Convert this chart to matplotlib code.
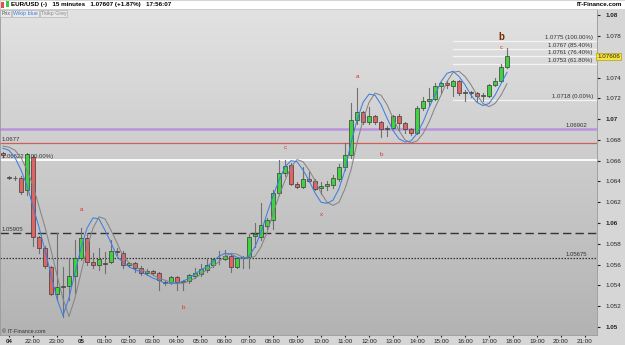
import matplotlib.pyplot as plt
import numpy as np
from matplotlib.patches import Rectangle

# 15 minute EUR/USD bars (bar 0 = 20:45 on the 4th)
opens = [1.0667, 1.0644, 1.0643, 1.0643, 1.0632, 1.0664, 1.0587, 1.0576, 1.0558, 1.0532,
         1.0538, 1.0539, 1.0549, 1.0566, 1.0586, 1.0563, 1.0560, 1.0562, 1.0563, 1.0573,
         1.0571, 1.0560, 1.0562, 1.0557, 1.0552, 1.0554, 1.0552, 1.0542, 1.0543, 1.0548,
         1.0543, 1.0544, 1.0549, 1.0551, 1.0555, 1.0560, 1.0566, 1.0565, 1.0568, 1.0558,
         1.0566, 1.0567, 1.0588, 1.0587, 1.0597, 1.0603, 1.0629, 1.0648, 1.0656, 1.0638,
         1.0635, 1.0642, 1.0640, 1.0634, 1.0636, 1.0637, 1.0642, 1.0654, 1.0665, 1.0699,
         1.0707, 1.0697, 1.0703, 1.0697, 1.0690, 1.0691, 1.0703, 1.0696, 1.0690, 1.0687,
         1.0711, 1.0717, 1.0719, 1.0732, 1.0735, 1.0732, 1.0737, 1.0725, 1.0726, 1.0725,
         1.0722, 1.0722, 1.0733, 1.0737, 1.0750]
highs = [1.0668, 1.0645, 1.0645, 1.0645, 1.0667, 1.0665, 1.0588, 1.0578, 1.0559, 1.0590,
         1.0558, 1.0566, 1.0584, 1.0595, 1.0590, 1.0571, 1.0576, 1.0572, 1.0584, 1.0576,
         1.0573, 1.0563, 1.0563, 1.0559, 1.0556, 1.0555, 1.0553, 1.0544, 1.0549, 1.0549,
         1.0545, 1.0551, 1.0557, 1.0561, 1.0566, 1.0566, 1.0573, 1.0574, 1.0570, 1.0567,
         1.0568, 1.0589, 1.0600, 1.0619, 1.0605, 1.0632, 1.0661, 1.0661, 1.0658, 1.0639,
         1.0654, 1.0649, 1.0642, 1.0639, 1.0640, 1.0646, 1.0657, 1.0677, 1.0715, 1.0730,
         1.0708, 1.0712, 1.0704, 1.0698, 1.0693, 1.0704, 1.0705, 1.0697, 1.0691, 1.0713,
         1.0721, 1.0730, 1.0735, 1.0736, 1.0737, 1.0738, 1.0738, 1.0728, 1.0727, 1.0726,
         1.0725, 1.0734, 1.0740, 1.0753, 1.0768]
lows = [1.0664, 1.0642, 1.0641, 1.0628, 1.0627, 1.0578, 1.0571, 1.0557, 1.0531, 1.0526,
        1.0510, 1.0526, 1.0533, 1.0564, 1.0560, 1.0557, 1.0555, 1.0552, 1.0562, 1.0569,
        1.0557, 1.0558, 1.0553, 1.0550, 1.0550, 1.0550, 1.0536, 1.0540, 1.0541, 1.0536,
        1.0536, 1.0542, 1.0547, 1.0549, 1.0553, 1.0558, 1.0561, 1.0564, 1.0553, 1.0557,
        1.0557, 1.0557, 1.0577, 1.0584, 1.0594, 1.0594, 1.0627, 1.0645, 1.0637, 1.0634,
        1.0634, 1.0639, 1.0632, 1.0628, 1.0632, 1.0634, 1.0640, 1.0651, 1.0663, 1.0695,
        1.0695, 1.0695, 1.0695, 1.0683, 1.0684, 1.0690, 1.0689, 1.0687, 1.0685, 1.0686,
        1.0709, 1.0713, 1.0718, 1.0725, 1.0730, 1.0722, 1.0723, 1.0717, 1.0721, 1.0717,
        1.0717, 1.0721, 1.0732, 1.0736, 1.0749]
closes = [1.0665, 1.0643, 1.0643, 1.0630, 1.0666, 1.0587, 1.0576, 1.0559, 1.0532, 1.0538,
          1.0539, 1.0549, 1.0566, 1.0586, 1.0563, 1.0560, 1.0565, 1.0561, 1.0573, 1.0572,
          1.0560, 1.0562, 1.0557, 1.0552, 1.0554, 1.0552, 1.0545, 1.0543, 1.0548, 1.0543,
          1.0544, 1.0550, 1.0552, 1.0556, 1.0560, 1.0565, 1.0566, 1.0568, 1.0558, 1.0566,
          1.0567, 1.0587, 1.0589, 1.0598, 1.0603, 1.0629, 1.0648, 1.0655, 1.0638, 1.0635,
          1.0642, 1.0640, 1.0633, 1.0636, 1.0638, 1.0643, 1.0654, 1.0665, 1.0699, 1.0707,
          1.0697, 1.0703, 1.0697, 1.0690, 1.0691, 1.0703, 1.0696, 1.0690, 1.0687, 1.0711,
          1.0717, 1.0719, 1.0732, 1.0735, 1.0733, 1.0737, 1.0725, 1.0726, 1.0725, 1.0722,
          1.0723, 1.0733, 1.0737, 1.0750, 1.0761]

# the two smoothed indicator curves (blue and grey)
wave_blue = [1.0672, 1.0670, 1.0663, 1.0651, 1.0636, 1.0616, 1.0596, 1.0574, 1.0550, 1.0527,
             1.0511, 1.0528, 1.0552, 1.0576, 1.0595, 1.0605, 1.0604, 1.0593, 1.0581, 1.0568,
             1.0562, 1.0558, 1.0555, 1.0553, 1.0550, 1.0547, 1.0545, 1.0542, 1.0542, 1.0542,
             1.0544, 1.0547, 1.0551, 1.0555, 1.0558, 1.0563, 1.0568, 1.0571, 1.0570, 1.0567,
             1.0566, 1.0568, 1.0577, 1.0591, 1.0609, 1.0626, 1.0641, 1.0654, 1.0660, 1.0659,
             1.0651, 1.0641, 1.0629, 1.0620, 1.0619, 1.0622, 1.0633, 1.0651, 1.0677, 1.0699,
             1.0716, 1.0724, 1.0723, 1.0714, 1.0701, 1.0689, 1.0681, 1.0678, 1.0679, 1.0686,
             1.0697, 1.0711, 1.0723, 1.0736, 1.0744, 1.0746, 1.0741, 1.0733, 1.0723, 1.0716,
             1.0713, 1.0715, 1.0723, 1.0734, 1.0745]
wave_grey = [1.0674, 1.0673, 1.0670, 1.0663, 1.0651, 1.0636, 1.0616, 1.0596, 1.0574, 1.0550,
             1.0527, 1.0510, 1.0528, 1.0552, 1.0576, 1.0595, 1.0606, 1.0604, 1.0593, 1.0581,
             1.0568, 1.0562, 1.0558, 1.0555, 1.0553, 1.0550, 1.0547, 1.0545, 1.0543, 1.0542,
             1.0542, 1.0544, 1.0547, 1.0551, 1.0555, 1.0558, 1.0563, 1.0568, 1.0571, 1.0570,
             1.0567, 1.0566, 1.0568, 1.0577, 1.0591, 1.0609, 1.0626, 1.0641, 1.0654, 1.0661,
             1.0659, 1.0651, 1.0641, 1.0629, 1.0620, 1.0617, 1.0620, 1.0633, 1.0651, 1.0677,
             1.0699, 1.0716, 1.0725, 1.0723, 1.0714, 1.0701, 1.0689, 1.0680, 1.0677, 1.0679,
             1.0686, 1.0697, 1.0711, 1.0723, 1.0736, 1.0745, 1.0746, 1.0741, 1.0733, 1.0723,
             1.0715, 1.0712, 1.0715, 1.0723, 1.0734]

time_ticks = ["04", "22:00", "23:00", "05", "01:00", "02:00", "03:00", "04:00", "05:00",
              "06:00", "07:00", "08:00", "09:00", "10:00", "11:00", "12:00", "13:00",
              "14:00", "15:00", "16:00", "17:00", "18:00", "19:00", "20:00", "21:00"]
price_ticks = [1.05, 1.052, 1.054, 1.056, 1.058, 1.06, 1.062, 1.064, 1.066, 1.068,
               1.07, 1.072, 1.074, 1.078, 1.08]

fib_levels = [1.0775, 1.0767, 1.0761, 1.0753, 1.0718]
fib_labels = ["1.0775 (100.00%)", "1.0767 (85.40%)", "1.0761 (76.40%)",
              "1.0753 (61.80%)", "1.0718 (0.00%)"]

wave_letters = ["a", "b", "c", "x", "a", "b", "c"]
letter_bar = [13, 30, 47, 53, 59, 63, 83]
letter_price = [1.0613, 1.0519, 1.0673, 1.0608, 1.0741, 1.0666, 1.0769]

purple_lvl = 1.06902
red_lvl = 1.0677
white_lvl = 1.0661
dash_lvl = 1.0590
dot_lvl = 1.05666
last_price = 1.07606

fnt = "Liberation Sans"
fig = plt.figure(figsize=(6.25, 3.45), dpi=100, facecolor="#d6d6d6")
ax = fig.add_axes([0, 10/345, 597/625, 326/345])
ax.set_xlim(-0.5, 99)
ax.set_ylim(1.04923, 1.08059)

# grey gradient background
grad = np.linspace(0, 1, 256).reshape(-1, 1)
ax.imshow(grad, extent=[0, 1, 0, 1], transform=ax.transAxes, aspect="auto",
          cmap=plt.matplotlib.colors.LinearSegmentedColormap.from_list("bg", ["#e2e2e2", "#b3b3b3"]),
          zorder=0)

# horizontal levels
ax.axhline(purple_lvl, color="#b994dc", lw=1.8, zorder=1)
ax.axhline(red_lvl, color="#d55a5a", lw=0.9, zorder=1)
ax.axhline(white_lvl, color="white", lw=1.3, zorder=1)
ax.axhline(dash_lvl, color="#333333", lw=1, dashes=(6, 3), zorder=1)
ax.axhline(dot_lvl, color="#333333", lw=0.9, dashes=(1.2, 1.2), zorder=1)
ax.text(97.3, purple_lvl + 0.0001, "1.06902", fontsize=4.3, ha="right", va="bottom", color="#333", family=fnt)
ax.text(-0.2, red_lvl + 0.0001, "1.0677", fontsize=4.3, ha="left", va="bottom", color="#333", family=fnt)
ax.text(-0.2, white_lvl + 0.0001, "1.06622 (100.00%)", fontsize=4.3, ha="left", va="bottom", color="#333", family=fnt)
ax.text(-0.2, dash_lvl + 0.0001, "1.05905", fontsize=4.3, ha="left", va="bottom", color="#333", family=fnt)
ax.text(97.3, dot_lvl + 0.0001, "1.05675", fontsize=4.3, ha="right", va="bottom", color="#333", family=fnt)

# fibonacci levels
for lvl, lab in zip(fib_levels, fib_labels):
    ax.plot([75, 98.8], [lvl, lvl], color="#f4f4f4", lw=0.9, zorder=1)
    ax.text(98.3, lvl + 0.0001, lab, fontsize=4.3, ha="right", va="bottom", color="#333", family=fnt)

# candles
for i in range(len(opens)):
    o, h, l, c = opens[i], highs[i], lows[i], closes[i]
    ax.plot([i, i], [l, h], color="#707070", lw=0.8, zorder=2)
    col = "#3fd43f" if c >= o else "#e06464"
    lo = min(o, c)
    hgt = max(abs(c - o), 0.00004)
    ax.add_patch(Rectangle((i - 0.38, lo), 0.76, hgt, facecolor=col,
                           edgecolor="#3a3a3a", lw=0.5, zorder=3))

bars = np.arange(len(wave_blue))
ax.plot(bars, wave_grey, color="#858585", lw=0.75, zorder=4)
ax.plot(bars, wave_blue, color="#3d7fe0", lw=0.75, zorder=5)

for t, b, p in zip(wave_letters, letter_bar, letter_price):
    ax.text(b, p, t, fontsize=4.5, color="#e03030", ha="center", va="center", family=fnt)
ax.text(83, 1.0779, "b", fontsize=7, color="#7a2a00", ha="center", va="center",
        fontweight="bold", family=fnt)
ax.text(-0.2, 1.0493, "\u00a9 IT-Finance.com", fontsize=4, color="#333", ha="left", va="bottom", family=fnt)

# axes / ticks
ax.set_xticks(np.arange(1, 98, 4))
ax.set_xticklabels(time_ticks, fontsize=4.5, family=fnt)
for lab in ax.get_xticklabels():
    if lab.get_text() in ("04", "05"):
        lab.set_fontweight("bold")
ax.tick_params(axis="x", length=1.5, pad=1.5, colors="#222")
ax.yaxis.tick_right()
ax.set_yticks(price_ticks)
ax.set_yticklabels([f"{v:g}" for v in price_ticks], fontsize=4.5, family=fnt)
for lab in ax.get_yticklabels():
    if lab.get_text() in ("1.05", "1.06", "1.07", "1.08"):
        lab.set_fontweight("bold")
ax.tick_params(axis="y", length=2, pad=4, colors="#222")
for s in ax.spines.values():
    s.set_color("#999999")
    s.set_linewidth(0.6)

# price tag
ax.text(1.0, last_price, "1.07606", transform=ax.get_yaxis_transform(), fontsize=4.5,
        ha="left", va="center", family=fnt, color="#222", zorder=10, clip_on=False,
        bbox=dict(boxstyle="square,pad=0.15", fc="#f5e43a", ec="#b0a020", lw=0.5))

# header strip
fig.patches.append(Rectangle((0, 1 - 9/345), 1, 9/345, transform=fig.transFigure,
                             facecolor="white", edgecolor="#cccccc", lw=0.5, zorder=5))
fig.text(0.018, 1 - 4.5/345, "EUR/USD (-)   15 minutes   1.07607 (+1.87%)   17:56:07",
         fontsize=4.5, fontweight="bold", va="center", family=fnt, zorder=6)
fig.text(0.995, 1 - 4.5/345, "IT-Finance.com", fontsize=4.5, fontweight="bold",
         ha="right", va="center", family=fnt, zorder=6)
fig.patches.append(Rectangle((0.001, 1 - 8/345), 0.006, 6/345, transform=fig.transFigure,
                             facecolor="#e24c4c", zorder=6))
fig.patches.append(Rectangle((0.009, 1 - 7/345), 0.005, 6/345, transform=fig.transFigure,
                             facecolor="#3ccf3c", zorder=6))
tab_x = [0.002, 0.021, 0.065]
tab_t = ["Prix", "Wikip blue", "Tkikp Grey"]
tab_c = ["#555555", "#3d7fe0", "#888888"]
for x, t, c in zip(tab_x, tab_t, tab_c):
    fig.text(x, 1 - 13.5/345, t, fontsize=3.8, color=c, va="center", family=fnt,
             bbox=dict(boxstyle="square,pad=0.2", fc="#e8e8e8", ec="#aaaaaa", lw=0.4))

fig.savefig("out.png", dpi=100, facecolor=fig.get_facecolor())
